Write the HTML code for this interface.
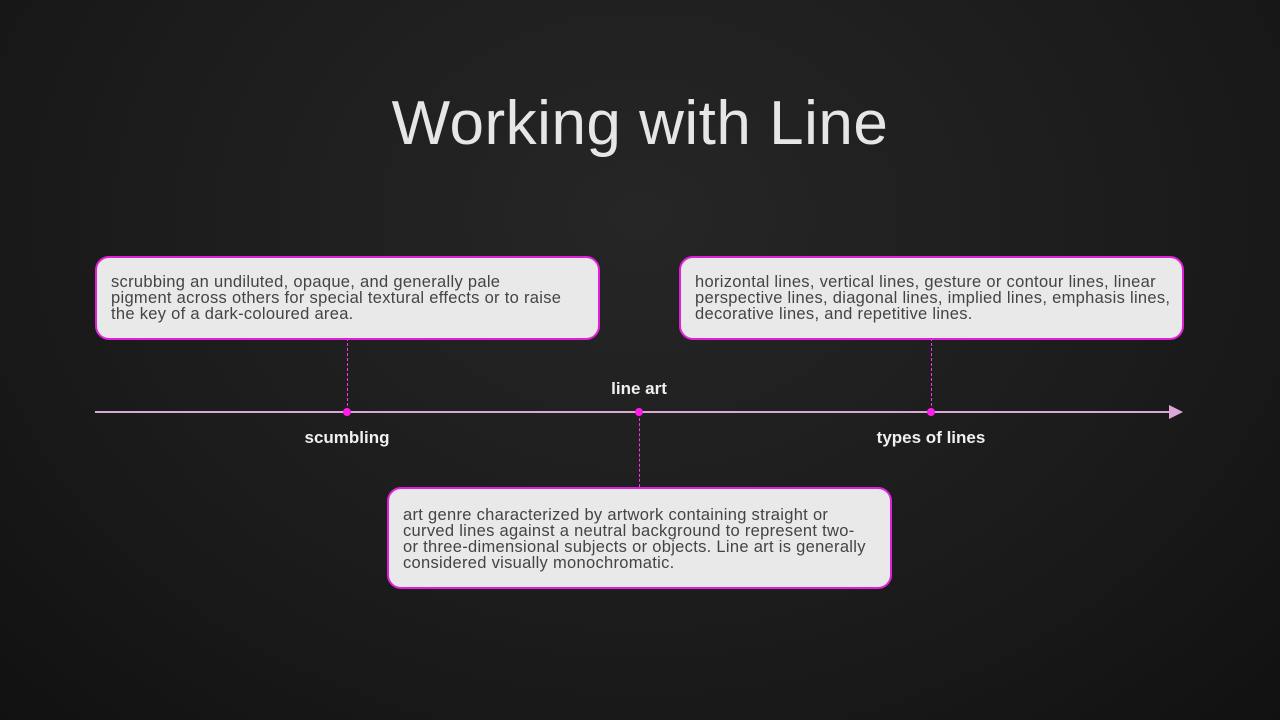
<!DOCTYPE html>
<html><head><style>
body{margin:0;width:1280px;height:720px;overflow:hidden;background:radial-gradient(ellipse at 50% 30%,#262626 0%,#1b1b1b 60%,#111 100%);font-family:"Liberation Sans",sans-serif;position:relative}
.t{position:absolute;left:0;width:1280px;top:88px;text-align:center;color:#e6e6e6;font-size:62px;font-weight:300;letter-spacing:0.5px}
.box{position:absolute;background:#e9e9e9;border:2px solid #e020d8;border-radius:14px;box-sizing:border-box;color:#444;font-size:16.5px;line-height:16px;padding:16px 14px;white-space:nowrap;letter-spacing:0.3px}
.lbl{position:absolute;color:#f0f0f0;font-weight:bold;font-size:17px;text-align:center;width:200px}
.dot{position:absolute;width:8px;height:8px;border-radius:50%;background:#ff1be8}
.dash{position:absolute;width:0;border-left:1px dashed #ff30f0}
</style></head><body>
<div class="t">Working with Line</div>
<div style="position:absolute;left:95px;top:411px;width:1075px;height:2px;background:#d9a8d6"></div>
<div style="position:absolute;left:1169px;top:405px;width:0;height:0;border-left:14px solid #d9a8d6;border-top:7px solid transparent;border-bottom:7px solid transparent"></div>
<div class="dash" style="left:347px;top:338px;height:73px"></div>
<div class="dash" style="left:931px;top:338px;height:73px"></div>
<div class="dash" style="left:639px;top:413px;height:74px"></div>
<div class="dot" style="left:343px;top:408px"></div>
<div class="dot" style="left:635px;top:408px"></div>
<div class="dot" style="left:927px;top:408px"></div>
<div class="lbl" style="left:247px;top:428px">scumbling</div>
<div class="lbl" style="left:539px;top:379px">line art</div>
<div class="lbl" style="left:831px;top:428px">types of lines</div>
<div class="box" style="left:95px;top:256px;width:505px;height:84px;padding-top:16px">scrubbing an undiluted, opaque, and generally pale<br>pigment across others for special textural effects or to raise<br>the key of a dark-coloured area.</div>
<div class="box" style="left:679px;top:256px;width:505px;height:84px;padding-top:16px">horizontal lines, vertical lines, gesture or contour lines, linear<br>perspective lines, diagonal lines, implied lines, emphasis lines,<br>decorative lines, and repetitive lines.</div>
<div class="box" style="left:387px;top:487px;width:505px;height:102px;padding-top:18px">art genre characterized by artwork containing straight or<br>curved lines against a neutral background to represent two-<br>or three-dimensional subjects or objects. Line art is generally<br>considered visually monochromatic.</div>
</body></html>
